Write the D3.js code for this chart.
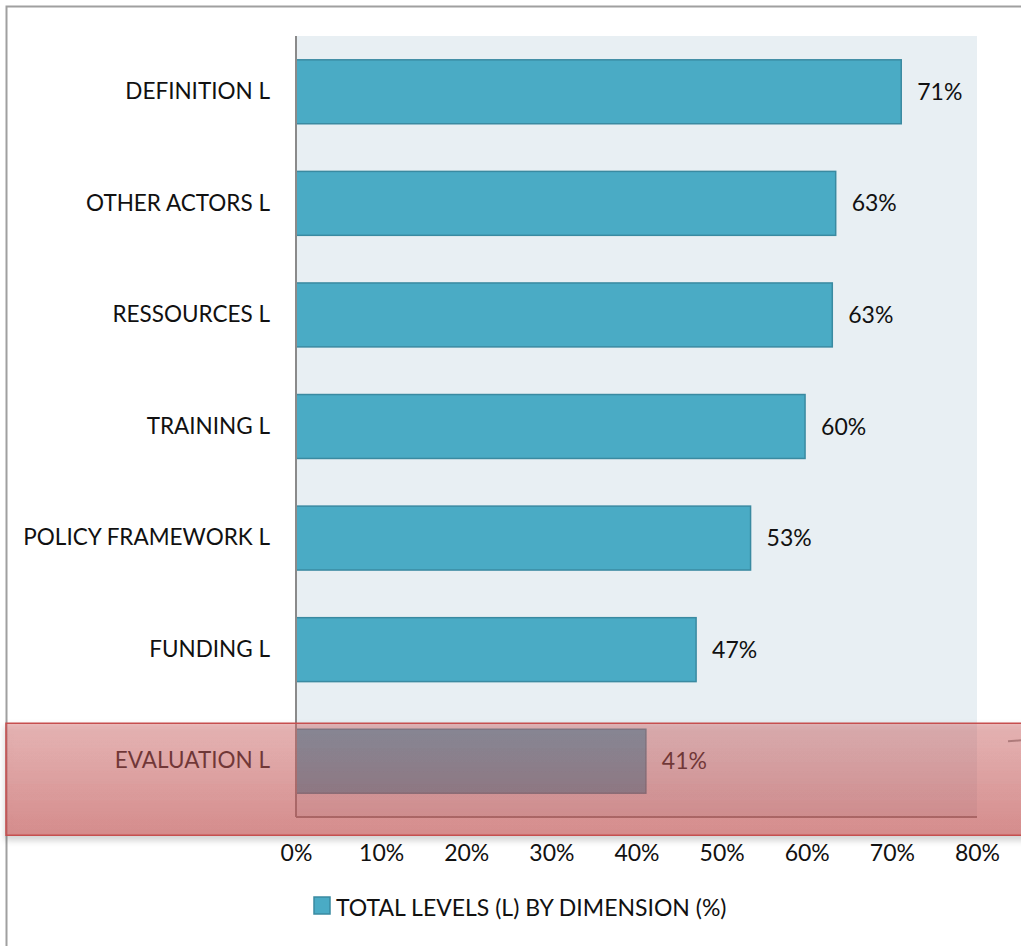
<!DOCTYPE html>
<html>
<head>
<meta charset="utf-8">
<script src="https://cdn.jsdelivr.net/npm/d3@7"></script>
<style>
  html, body { margin: 0; padding: 0; background: #fff; }
  svg { display: block; font-family: Lato, "Open Sans", sans-serif; }
</style>
</head>
<body>
<svg id="chart" width="1021" height="946"></svg>
<script>
// Dimension scores, top to bottom
const categories = [
  "DEFINITION L",
  "OTHER ACTORS L",
  "RESSOURCES L",
  "TRAINING L",
  "POLICY FRAMEWORK L",
  "FUNDING L",
  "EVALUATION L"
];
const values = [0.711, 0.634, 0.630, 0.598, 0.534, 0.470, 0.411];
const xTicks = [0, 0.1, 0.2, 0.3, 0.4, 0.5, 0.6, 0.7, 0.8];
const seriesName = "TOTAL LEVELS (L) BY DIMENSION (%)";
const highlighted = "EVALUATION L";

const svg = d3.select("#chart");
const W = 1021, H = 946;
const plot = { left: 296, right: 977, top: 36, bottom: 817 };
const pct = d3.format(".0%");
const FONT = "Lato, 'Open Sans', sans-serif";

svg.append("rect").attr("width", W).attr("height", H).attr("fill", "#fff");

const defs = svg.append("defs");
const grad = defs.append("linearGradient")
  .attr("id", "hlFill").attr("x1", 0).attr("y1", 0).attr("x2", 0).attr("y2", 1);
grad.append("stop").attr("offset", "0%").attr("stop-color", "rgb(212,102,102)").attr("stop-opacity", 0.41);
grad.append("stop").attr("offset", "100%").attr("stop-color", "rgb(198,78,78)").attr("stop-opacity", 0.57);
const shadow = defs.append("filter").attr("id", "hlShadow")
  .attr("x", "-5%").attr("y", "-30%").attr("width", "110%").attr("height", "170%");
shadow.append("feDropShadow")
  .attr("dx", 0).attr("dy", 4).attr("stdDeviation", 3)
  .attr("flood-color", "#000").attr("flood-opacity", 0.28);

// outer frame (left and top edges)
svg.append("path")
  .attr("d", `M6.5,${H} V6.5 H${W}`)
  .attr("fill", "none").attr("stroke", "#a0a0a0").attr("stroke-width", 2);

const x = d3.scaleLinear().domain([0, 0.8]).range([plot.left, plot.right]);
const y = d3.scaleBand().domain(categories).range([plot.top, plot.bottom])
  .paddingInner(0.427).paddingOuter(0.2135);

// plot background
svg.append("rect")
  .attr("x", plot.left).attr("y", plot.top)
  .attr("width", plot.right - plot.left).attr("height", plot.bottom - plot.top)
  .attr("fill", "#e8eff3");

// bars
svg.append("g").selectAll("rect")
  .data(categories)
  .join("rect")
  .attr("x", x(0))
  .attr("y", d => y(d))
  .attr("width", (d, i) => x(values[i]) - x(0))
  .attr("height", y.bandwidth())
  .attr("fill", "#4aabc5")
  .attr("stroke", "#3a8aa1")
  .attr("stroke-width", 1.5);

// value labels
svg.append("g").selectAll("text")
  .data(categories)
  .join("text")
  .attr("x", (d, i) => x(values[i]) + 16)
  .attr("y", d => y(d) + y.bandwidth() / 2)
  .attr("dy", "0.35em")
  .attr("font-size", 23)
  .attr("fill", "#111")
  .text((d, i) => pct(values[i]));

// category axis
const yAxis = svg.append("g")
  .attr("transform", `translate(${plot.left},0)`)
  .call(d3.axisLeft(y).tickSize(0).tickPadding(26));
yAxis.select(".domain").remove();
yAxis.selectAll("text").attr("font-size", 22.5).attr("fill", "#111")
  .attr("font-family", FONT);

// value axis
const xAxis = svg.append("g")
  .attr("transform", `translate(0,${plot.bottom})`)
  .call(d3.axisBottom(x).tickValues(xTicks).tickFormat(pct).tickSize(0).tickPadding(28));
xAxis.select(".domain").remove();
xAxis.selectAll("text").attr("font-size", 23).attr("fill", "#111")
  .attr("font-family", FONT);

// axis lines
svg.append("line")
  .attr("x1", plot.left).attr("x2", plot.left)
  .attr("y1", plot.top).attr("y2", plot.bottom)
  .attr("stroke", "#8a8a8a").attr("stroke-width", 2);
svg.append("line")
  .attr("x1", plot.left).attr("x2", plot.right)
  .attr("y1", plot.bottom).attr("y2", plot.bottom)
  .attr("stroke", "#8a8a8a").attr("stroke-width", 2);

// legend
const legend = svg.append("g").attr("transform", "translate(314,897)");
legend.append("rect")
  .attr("width", 16).attr("height", 17)
  .attr("fill", "#4aabc5").attr("stroke", "#3a8aa1").attr("stroke-width", 1.5);
legend.append("text")
  .attr("x", 22).attr("y", 11).attr("dy", "0.35em")
  .attr("font-size", 23).attr("fill", "#111")
  .text(seriesName);

// highlight band over the evaluation row
const hTop = y(highlighted) - 6;
svg.append("rect")
  .attr("x", 6).attr("y", hTop)
  .attr("width", W + 10).attr("height", 112)
  .attr("fill", "url(#hlFill)")
  .attr("stroke", "#c64f4f").attr("stroke-width", 1.5)
  .attr("filter", "url(#hlShadow)");
svg.append("line")
  .attr("x1", 1008).attr("x2", 1021).attr("y1", hTop + 18).attr("y2", hTop + 17)
  .attr("stroke", "#8c5a5a").attr("stroke-width", 2).attr("opacity", 0.6);
</script>
</body>
</html>
